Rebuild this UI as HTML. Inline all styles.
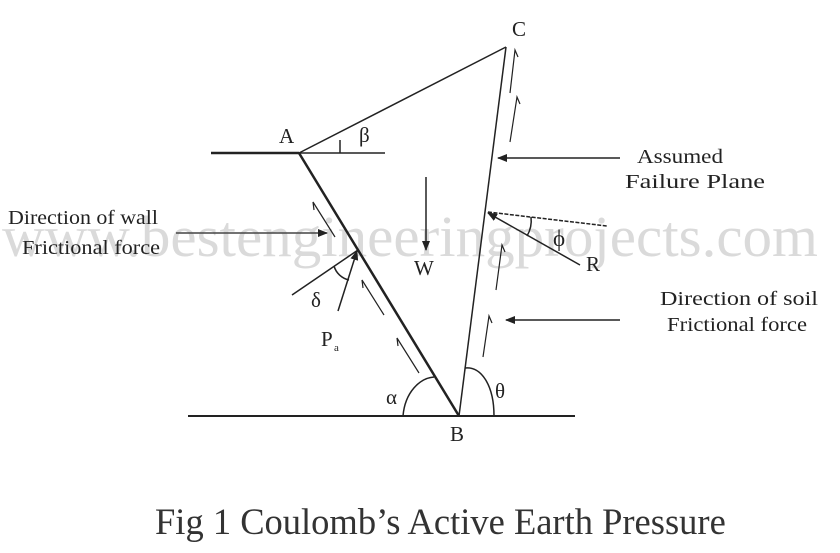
<!DOCTYPE html>
<html><head><meta charset="utf-8"><style>
body{margin:0;background:#fff;}
svg{display:block}
text{font-family:"Liberation Serif",serif;fill:#222}
</style></head><body>
<svg width="840" height="553" viewBox="0 0 840 553" xmlns="http://www.w3.org/2000/svg">
<defs><marker id="ah" markerWidth="10" markerHeight="8" refX="9" refY="4" orient="auto" markerUnits="userSpaceOnUse"><path d="M0,0 L10,4 L0,8 Z" fill="#222"/></marker></defs>
<text x="2" y="256" font-size="58" style="fill:#dadada" textLength="816" lengthAdjust="spacingAndGlyphs">www.bestengineeringprojects.com</text>
<g stroke="#222" stroke-width="1.5" fill="none">
<line x1="211" y1="153" x2="299" y2="153" stroke-width="2.5"/>
<line x1="299" y1="153" x2="385" y2="153"/>
<line x1="188" y1="416" x2="575" y2="416" stroke-width="2"/>
<line x1="299" y1="153" x2="459" y2="416" stroke-width="2.5"/>
<line x1="299" y1="153" x2="506" y2="47"/>
<line x1="506" y1="47" x2="459" y2="416"/>
<line x1="340" y1="140" x2="340" y2="153"/>
<path d="M403,416 C405,392 420,378 434,377"/>
<path d="M465,368 C481,366 494,385 494,416"/>
<line x1="620" y1="158" x2="498" y2="158" marker-end="url(#ah)"/>
<line x1="620" y1="320" x2="506" y2="320" marker-end="url(#ah)"/>
<line x1="176" y1="233" x2="327" y2="233" marker-end="url(#ah)" stroke="#444"/>
<line x1="426" y1="177" x2="426" y2="250" marker-end="url(#ah)"/>
<line x1="580" y1="265" x2="488" y2="213" marker-end="url(#ah)"/>
<line x1="488" y1="212" x2="607" y2="226" stroke-dasharray="4,1.5"/>
<path d="M531,217 A30,30 0 0 1 527,236"/>
<line x1="338" y1="311" x2="357" y2="251" marker-end="url(#ah)"/>
<line x1="292" y1="295" x2="358" y2="250"/>
<path d="M334,266 A20,20 0 0 0 349,280"/>
<g stroke-width="1.2">
<path d="M335,237 L313,202 L314,210"/>
<path d="M384,315 L362,280 L363,288"/>
<path d="M419,373 L397,338 L398,346"/>
<path d="M510,142 L517,97 L520,104"/>
<path d="M510,93 L515,50 L518,57"/>
<path d="M496,290 L502,245 L505,252"/>
<path d="M483,357 L489,316 L492,323"/>
</g>
</g>
<g font-size="21">
<text x="279" y="143">A</text>
<text x="512" y="36">C</text>
<text x="450" y="441">B</text>
<text x="359" y="142">β</text>
<text x="414" y="275">W</text>
<text x="586" y="271">R</text>
<text x="553" y="246" font-size="23">ϕ</text>
<text x="311" y="307">δ</text>
<text x="321" y="346">P</text><text x="334" y="351" font-size="11">a</text>
<text x="386" y="404">α</text>
<text x="495" y="398">θ</text>
</g>
<g font-size="20">
<text x="8" y="224" textLength="150" lengthAdjust="spacingAndGlyphs">Direction of wall</text>
<text x="22" y="254" textLength="138" lengthAdjust="spacingAndGlyphs">Frictional force</text>
<text x="637" y="163" textLength="86" lengthAdjust="spacingAndGlyphs">Assumed</text>
<text x="625" y="188" textLength="140" lengthAdjust="spacingAndGlyphs">Failure Plane</text>
<text x="660" y="305" textLength="158" lengthAdjust="spacingAndGlyphs">Direction of soil</text>
<text x="667" y="331" textLength="140" lengthAdjust="spacingAndGlyphs">Frictional force</text>
</g>
<text x="155" y="534" font-size="36.5" style="fill:#333">Fig 1 Coulomb’s Active Earth Pressure</text>
</svg>
</body></html>
